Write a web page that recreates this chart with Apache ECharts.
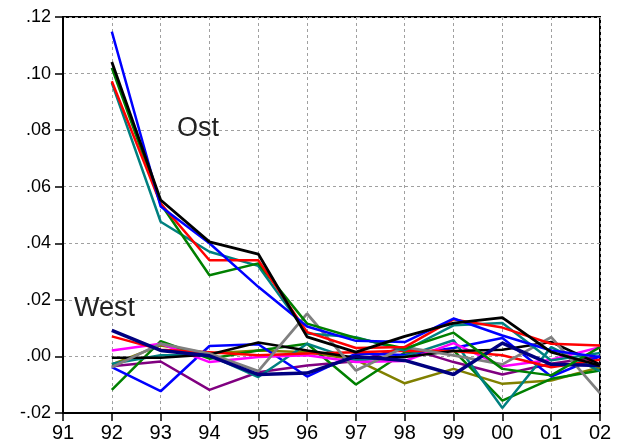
<!DOCTYPE html>
<html>
<head>
<meta charset="utf-8">
<script src="https://cdn.jsdelivr.net/npm/echarts@6/dist/echarts.min.js"></script>
<style>html,body{margin:0;padding:0;background:#fff}#c{width:623px;height:448px}</style>
</head>
<body>
<div id="c"></div>
<script>
var years = ['91','92','93','94','95','96','97','98','99','00','01','02'];
var yTicks = [-0.02, 0.00, 0.02, 0.04, 0.06, 0.08, 0.10, 0.12];

// Ost (East) series, 1992-2002
var ostBlue  = [0.1148, 0.0530, 0.0400, 0.0246, 0.0106, 0.0055, 0.0051, 0.0134, 0.0074, 0.0021, -0.0002];
var ostRed   = [0.0973, 0.0540, 0.0340, 0.0340, 0.0086, 0.0030, 0.0033, 0.0131, 0.0102, 0.0045, 0.0039];
var ostGreen = [0.1020, 0.0540, 0.0287, 0.0329, 0.0116, 0.0065, 0.0028, 0.0084, -0.0044, -0.0067, 0.0033];
var ostTeal  = [0.0967, 0.0476, 0.0370, 0.0320, 0.0081, 0.0068, 0.0021, 0.0110, 0.0118, -0.0014, 0.0012];
var ostBlack = [0.1041, 0.0553, 0.0405, 0.0362, 0.0069, 0.0015, 0.0071, 0.0118, 0.0137, 0.0015, -0.0032];

// West series, 1992-2002
var westNavy    = [0.0092, 0.0021, 0.0002, -0.0064, -0.0059, 0.0000, -0.0014, -0.0064, 0.0047, -0.0028, -0.0032];
var westRed     = [0.0071, 0.0024, 0.0015, 0.0004, 0.0010, 0.0015, 0.0020, 0.0019, 0.0004, -0.0038, -0.0012];
var westMagenta = [0.0021, 0.0045, -0.0020, -0.0002, 0.0004, -0.0020, -0.0016, 0.0047, -0.0035, -0.0012, 0.0033];
var westBlack   = [-0.0005, -0.0005, 0.0007, 0.0049, 0.0021, -0.0005, -0.0002, 0.0019, 0.0024, 0.0051, -0.0028];
var westOlive   = [-0.0028, 0.0039, 0.0010, 0.0021, 0.0015, -0.0012, -0.0095, -0.0044, -0.0097, -0.0085, -0.0038];
var westTeal    = [-0.0026, 0.0004, 0.0004, -0.0073, 0.0045, -0.0014, 0.0000, 0.0057, -0.0182, 0.0033, -0.0052];
var westPurple  = [-0.0035, -0.0018, -0.0118, -0.0056, -0.0032, -0.0017, 0.0033, -0.0020, -0.0064, -0.0026, 0.0000];
var westGray    = [-0.0038, 0.0045, 0.0010, -0.0052, 0.0151, -0.0050, 0.0033, 0.0004, -0.0028, 0.0068, -0.0130];
var westBlue    = [-0.0038, -0.0123, 0.0037, 0.0043, -0.0071, 0.0010, 0.0005, 0.0030, 0.0065, -0.0071, 0.0000];
var westGreen   = [-0.0118, 0.0054, -0.0008, 0.0021, 0.0045, -0.0099, 0.0014, 0.0021, -0.0156, -0.0079, -0.0050];

var seriesDefs = [
  [westPurple, '#800080', 2.5],
  [westOlive, '#808000', 2.5],
  [westGreen, '#008000', 2.5],
  [westBlue, '#0000FF', 2.5],
  [westTeal, '#008080', 2.5],
  [westMagenta, '#FF00FF', 2.5],
  [westRed, '#FF0000', 2.5],
  [westBlack, '#000000', 2.5],
  [westGray, '#808080', 2.8],
  [westNavy, '#000080', 3.5],
  [ostTeal, '#008080', 2.5],
  [ostGreen, '#008000', 2.5],
  [ostRed, '#FF0000', 2.5],
  [ostBlue, '#0000FF', 2.5],
  [ostBlack, '#000000', 2.8]
];

var series = seriesDefs.map(function (d) {
  return {
    type: 'line',
    data: [null].concat(d[0]),
    symbol: 'none',
    lineStyle: { color: d[1], width: d[2] },
    itemStyle: { color: d[1] },
    animation: false,
    silent: true
  };
});

function fmt(v) {
  var s = Math.abs(v).toFixed(2).replace(/^0/, '');
  return (v < -1e-9 ? '-' : '') + s;
}

var FONT = 'Liberation Sans, Arial, sans-serif';
var chart = echarts.init(document.getElementById('c'));
chart.setOption({
  backgroundColor: '#fff',
  animation: false,
  grid: { left: 63, right: 23, top: 17, bottom: 35, show: true, borderColor: '#000', borderWidth: 2, backgroundColor: 'transparent' },
  xAxis: {
    type: 'category',
    data: years,
    boundaryGap: false,
    axisLine: { show: true, onZero: false, lineStyle: { color: '#000', width: 2 } },
    axisTick: { show: true, length: 8, lineStyle: { color: '#000', width: 1.5 }, alignWithLabel: true },
    axisLabel: { color: '#000', fontSize: 20, fontFamily: FONT, margin: 10 },
    splitLine: { show: true, lineStyle: { color: '#a0a0a0', type: [3, 3], width: 1 } }
  },
  yAxis: {
    type: 'value',
    min: yTicks[0],
    max: yTicks[yTicks.length - 1],
    interval: 0.02,
    axisLine: { show: true, onZero: false, lineStyle: { color: '#000', width: 2 } },
    axisTick: { show: true, length: 8, lineStyle: { color: '#000', width: 1.5 } },
    axisLabel: { color: '#000', fontSize: 18, fontFamily: FONT, margin: 12, formatter: fmt },
    splitLine: { show: true, lineStyle: { color: '#a0a0a0', type: [3, 3], width: 1 } }
  },
  series: series,
  graphic: [
    { type: 'text', left: 177, top: 115, style: { text: 'Ost', fontSize: 27, fill: '#222', fontFamily: FONT }, z: 100 },
    { type: 'text', left: 74, top: 295, style: { text: 'West', fontSize: 27, fill: '#222', fontFamily: FONT }, z: 100 }
  ]
});
</script>
</body>
</html>
